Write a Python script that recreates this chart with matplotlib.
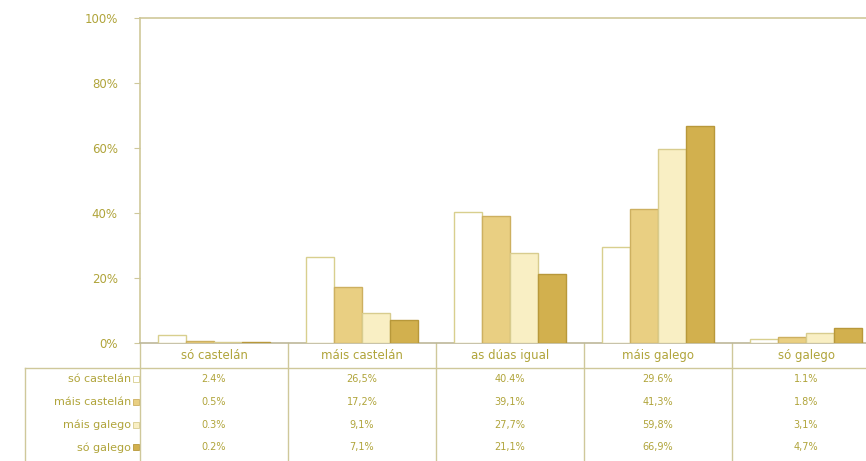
import matplotlib
matplotlib.use("Agg")
import matplotlib.pyplot as plt
import matplotlib.transforms as mtransforms
from matplotlib.patches import Rectangle

categories = ["só castelán", "máis castelán", "as dúas igual", "máis galego", "só galego"]
series = ["só castelán", "máis castelán", "máis galego", "só galego"]
values = [
    [2.4, 26.5, 40.4, 29.6, 1.1],
    [0.5, 17.2, 39.1, 41.3, 1.8],
    [0.3, 9.1, 27.7, 59.8, 3.1],
    [0.2, 7.1, 21.1, 66.9, 4.7],
]
cell_text = [
    ["2.4%", "26,5%", "40.4%", "29.6%", "1.1%"],
    ["0.5%", "17,2%", "39,1%", "41,3%", "1.8%"],
    ["0.3%", "9,1%", "27,7%", "59,8%", "3,1%"],
    ["0.2%", "7,1%", "21,1%", "66,9%", "4,7%"],
]
yticks = [0, 20, 40, 60, 80, 100]

faces = ["#ffffff", "#e9cf82", "#f9efc4", "#d2b04e"]
edges = ["#d8cf8e", "#cdb060", "#d8cc8e", "#b8983a"]
txt = "#b0a43a"
line = "#cfc89a"

fig = plt.figure(figsize=(8.66, 4.61), dpi=100)
ax = fig.add_axes([140 / 866, 118 / 461, 740 / 866, 325 / 461])

bw = 0.19
for i, vals in enumerate(values):
    xs = [c + (i - 1.5) * bw for c in range(len(categories))]
    ax.bar(xs, vals, width=bw, color=faces[i], edgecolor=edges[i], linewidth=1.0, zorder=3)

ax.set_xlim(-0.5, len(categories) - 0.5)
ax.set_ylim(0, 100)
ax.set_yticks(yticks)
ax.set_yticklabels([f"{t}%" for t in yticks], fontsize=8.5, color=txt)
ax.tick_params(axis="y", length=4, color=line, pad=12)
ax.set_xticks([])
for s in ["left", "top"]:
    ax.spines[s].set_color(line)
    ax.spines[s].set_linewidth(1.2)
ax.spines["bottom"].set_color("#bdb89a")
ax.spines["bottom"].set_linewidth(1.2)
ax.spines["right"].set_visible(False)

# data table under the chart
tr = mtransforms.blended_transform_factory(ax.transData, ax.transAxes)
px = 1 / 325.0  # axes fraction per pixel (vertical)
hdr_y = -12 * px
row0 = -25 * px
row_h = 22.7 * px
x_left = -0.5 + (25 - 140) / 148.0

for c, name in enumerate(categories):
    ax.text(c, hdr_y, name, transform=tr, ha="center", va="center", fontsize=8.5, color=txt)
for r, name in enumerate(series):
    yc = row0 - (r + 0.5) * row_h
    ax.text(-0.56, yc, name, transform=tr, ha="right", va="center", fontsize=8, color=txt)
    ax.add_patch(Rectangle((-0.55, yc - 3 * px), 0.04, 6 * px, transform=tr,
                           facecolor=faces[r], edgecolor=edges[r], lw=0.6, clip_on=False))
    for c in range(len(categories)):
        ax.text(c, yc, cell_text[r][c], transform=tr, ha="center", va="center",
                fontsize=7, color=txt)

bottom = row0 - 4 * row_h - 10 * px
ax.plot([x_left, len(categories)], [row0, row0], transform=tr, color=line, lw=1, clip_on=False)
ax.plot([x_left, x_left], [row0, bottom], transform=tr, color=line, lw=1, clip_on=False)
for c in range(len(categories)):
    xb = c - 0.5
    ax.plot([xb, xb], [0, bottom], transform=tr, color=line, lw=1, clip_on=False)
ax.plot([4.5, 4.5], [0, bottom], transform=tr, color=line, lw=1, clip_on=False)

fig.savefig("out.png", dpi=100, facecolor="white")
